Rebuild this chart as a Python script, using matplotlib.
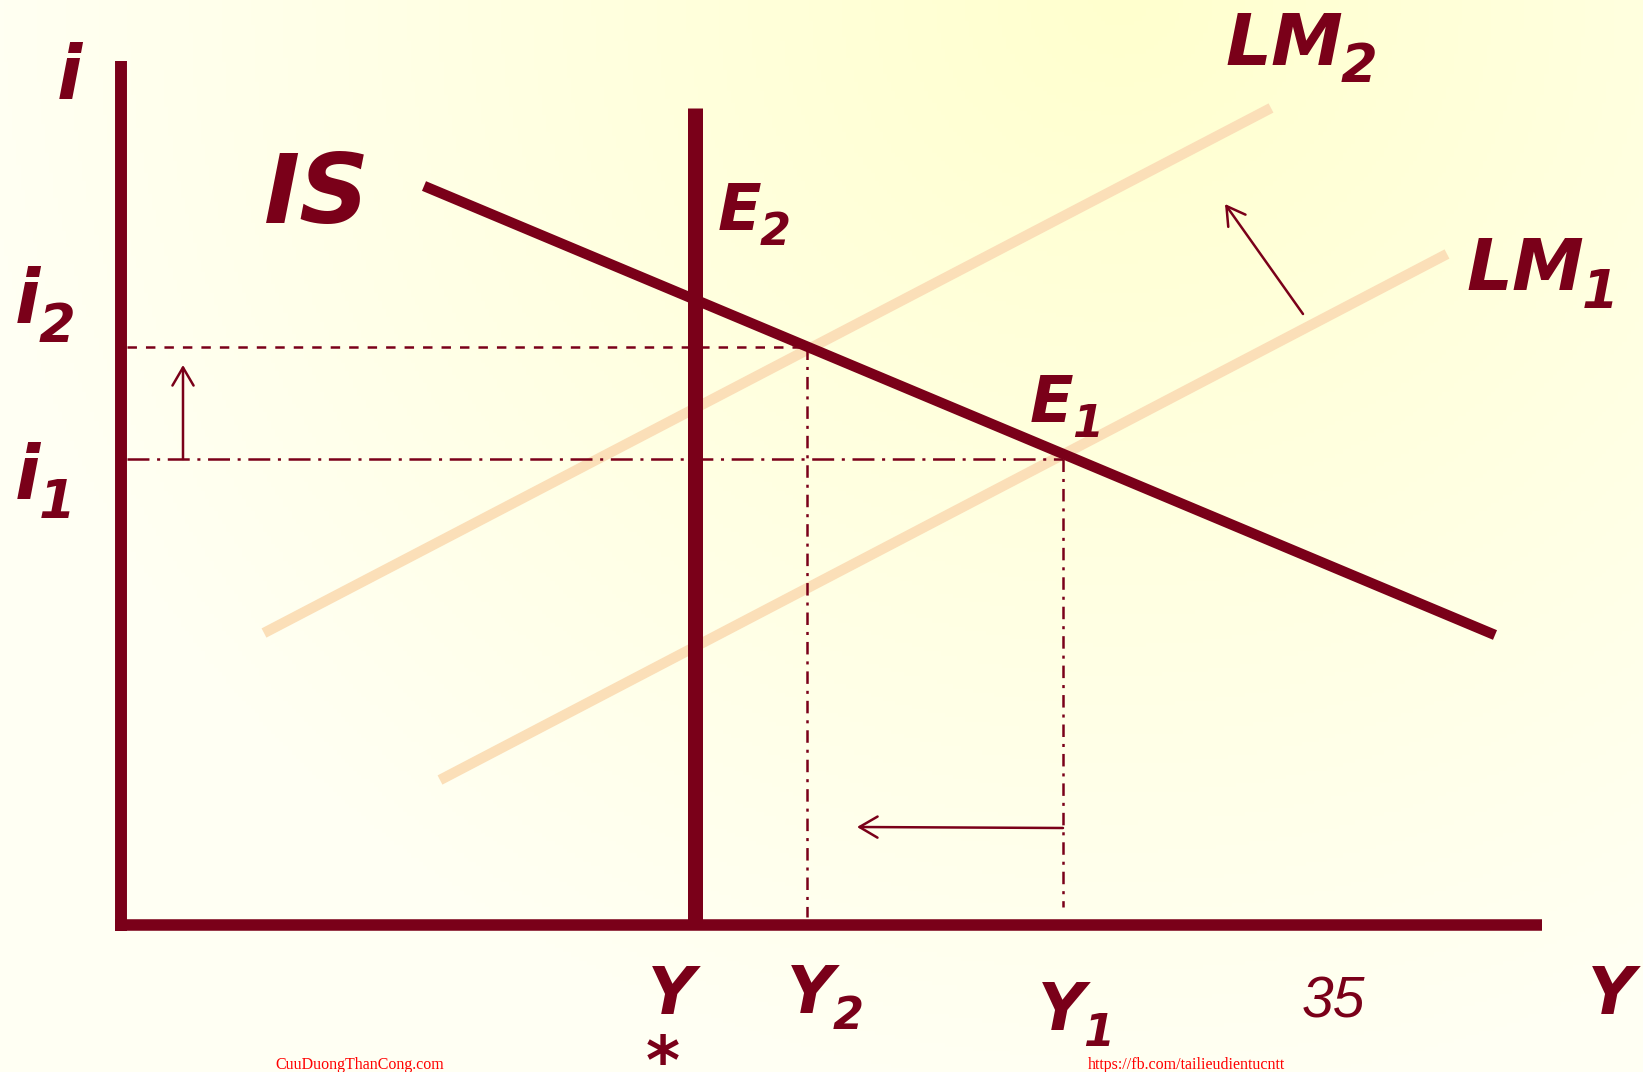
import numpy as np
import matplotlib
matplotlib.use('Agg')
import matplotlib.pyplot as plt

plt.rcParams['lines.scale_dashes'] = False

# Diagram values (output Y on x, interest rate i on y), origin at the axes corner
axis_top = 864
axis_right = 1421
y_star = 574
y_star_top = 817

is_y = [303, 1374]
is_i = [739, 290]
lm2_y = [143, 1150]
lm2_i = [292, 817]
lm1_y = [319, 1326]
lm1_i = [145, 671]

i2 = 578
i1 = 466
Y2 = 686
Y1 = 942
Y2_bottom = 8
Y1_bottom = 18

# shifts shown by arrows: (start, end)
arrow_i = [(62, i1), (62, 560)]
arrow_lm = [(1182, 611), (1104, 721)]
arrow_y = [(Y1, 97), (736, 98)]

# labels: (text, subscript, x, y of baseline, size, sub dy, sub size)
labels = [
    ('LM', '2', 1104, 860, 52, -17, 38),
    ('LM', '1', 1345, 635, 52, -18, 38),
    ('E', '2', 597, 695, 46, -15, 32),
    ('E', '1', 909, 503, 46, -15, 32),
    ('i', '2', -106, 602, 53, -19, 38),
    ('i', '1', -106, 426, 53, -19, 38),
    ('Y', '2', 666, -88, 47, -16, 32),
    ('Y', '1', 917, -105, 47, -16, 32),
]

maroon = '#7A0019'
peach = '#FBDFB8'

W, H = 1643, 1072
fig = plt.figure(figsize=(W / 100, H / 100), dpi=100)
ax = fig.add_axes([0, 0, 1, 1])
x0, x1 = -121, W - 121
yb, yt = 925 - H, 925
ax.set_xlim(x0, x1)
ax.set_ylim(yb, yt)
ax.axis('off')

# radial background
gx, gy = np.meshgrid(np.linspace(x0, x1, 400), np.linspace(yt, yb, 260))
r = np.sqrt((gx - 1000) ** 2 + ((gy - 930) * 1.05) ** 2) / 1150
t = np.clip(r, 0, 1)
c0 = np.array([255, 255, 206]) / 255
c1 = np.array([255, 255, 243]) / 255
img = c0[None, None, :] * (1 - t[..., None]) + c1[None, None, :] * t[..., None]
ax.imshow(img, extent=[x0, x1, yb, yt], aspect='auto', zorder=0)

# LM curves
ax.plot(lm2_y, lm2_i, color=peach, lw=7.5, solid_capstyle='butt', zorder=2)
ax.plot(lm1_y, lm1_i, color=peach, lw=7.5, solid_capstyle='butt', zorder=2)

# guide lines
ax.plot([6, Y2], [i2, i2], color=maroon, lw=1.8, dashes=(6.8, 6.5), zorder=3)
ax.plot([6, Y1], [i1, i1], color=maroon, lw=1.8, dashes=(15.8, 5.5, 2.2, 5.5), zorder=3)
ax.plot([Y2, Y2], [i2, Y2_bottom], color=maroon, lw=1.8, dashes=(9, 5, 2.2, 5), zorder=3)
ax.plot([Y1, Y1], [i1, Y1_bottom], color=maroon, lw=1.8, dashes=(9, 5, 2.2, 5), zorder=3)

# IS and full-employment output
ax.plot(is_y, is_i, color=maroon, lw=7.5, solid_capstyle='butt', zorder=4)
ax.plot([y_star, y_star], [0, y_star_top], color=maroon, lw=10.8, solid_capstyle='butt', zorder=4)

# axes
ax.plot([0, 0], [-6, axis_top], color=maroon, lw=8.6, solid_capstyle='butt', zorder=5)
ax.plot([-6, axis_right], [0, 0], color=maroon, lw=8.3, solid_capstyle='butt', zorder=5)

# arrows
for a, b in [arrow_i, arrow_lm, arrow_y]:
    ax.annotate('', xy=b, xytext=a,
                arrowprops=dict(arrowstyle='->,head_length=0.65,head_width=0.38',
                                color=maroon, lw=1.8, mutation_scale=20,
                                shrinkA=0, shrinkB=0), zorder=6)

bi = dict(family='DejaVu Sans', weight='bold', style='oblique', color=maroon,
          ha='left', va='baseline', zorder=7)
ax.text(-64, 826, 'i', fontsize=53, **bi)
ax.text(143, 702, 'IS', fontsize=70, **bi)

renderer = fig.canvas.get_renderer()
inv = ax.transData.inverted()
for txt, sub, x, y, s, dy, ss in labels:
    main = ax.text(x, y, txt, fontsize=s, **bi)
    right = inv.transform(main.get_window_extent(renderer))[1, 0]
    ax.text(right - 2, y + dy, sub, fontsize=ss, **bi)

ax.text(527, -89, 'Y', fontsize=47, **bi)
ax.text(525, -158, '*', fontsize=47, **bi)
ax.text(1467, -89, 'Y', fontsize=47, **bi)
ax.text(1181, -93, '35', fontsize=41, family='Liberation Sans', style='italic',
        color=maroon, ha='left', va='baseline')

wm = dict(color='#FF0000', fontsize=11.5, family='Liberation Serif', ha='center', va='baseline')
ax.text(239, -144, 'CuuDuongThanCong.com', **wm)
ax.text(1065, -144, 'https://fb.com/tailieudientucntt', **wm)

fig.savefig('out.png', dpi=100)
